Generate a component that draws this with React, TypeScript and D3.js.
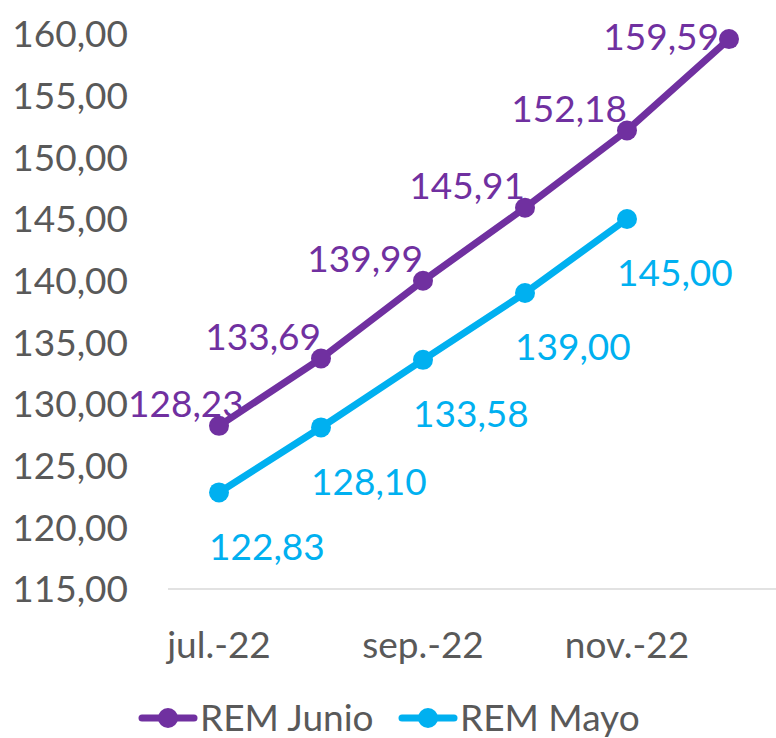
import { useEffect, useRef } from "react";
import { select, scaleBand, scaleLinear, line, range } from "d3";

const months = ["jul.-22", "ago.-22", "sep.-22", "oct.-22", "nov.-22", "dic.-22"];
const shownMonths = ["jul.-22", "sep.-22", "nov.-22"];
const remJunio = [128.23, 133.69, 139.99, 145.91, 152.18, 159.59];
const remMayo = [122.83, 128.1, 133.58, 139.0, 145.0];
const yTicks = [115, 120, 125, 130, 135, 140, 145, 150, 155, 160];

const PURPLE = "#7030A0";
const CYAN = "#00B0F0";
const GREY = "#595959";
const FONT = "Lato, 'Open Sans', sans-serif";

const fmt = (v: number) => v.toFixed(2).replace(".", ",");

export default function App() {
  const svgRef = useRef<SVGSVGElement>(null);

  useEffect(() => {
    const svg = select(svgRef.current);
    svg.selectAll("*").remove();

    const plotLeft = 128;
    const x = scaleBand().domain(months).range([168, 780]);
    const y = scaleLinear().domain([115, 160]).range([589, 34]);
    const cx = (i: number) => (x(months[i]) ?? 0) + x.bandwidth() / 2;

    // axis line
    svg
      .append("line")
      .attr("x1", 168)
      .attr("x2", 776)
      .attr("y1", y(115))
      .attr("y2", y(115))
      .attr("stroke", "#D9D9D9")
      .attr("stroke-width", 1.5);

    // y tick labels
    svg
      .selectAll(".ytick")
      .data(yTicks)
      .enter()
      .append("text")
      .attr("x", 128)
      .attr("y", (d) => y(d))
      .attr("dy", "0.36em")
      .attr("text-anchor", "end")
      .attr("fill", GREY)
      .attr("font-size", 37)
      .attr("font-family", FONT)
      .text((d) => fmt(d));

    // x labels
    svg
      .selectAll(".xtick")
      .data(shownMonths)
      .enter()
      .append("text")
      .attr("x", (d) => (x(d) ?? 0) + x.bandwidth() / 2)
      .attr("y", 645)
      .attr("dy", "0.36em")
      .attr("text-anchor", "middle")
      .attr("fill", GREY)
      .attr("font-size", 37)
      .attr("font-family", FONT)
      .text((d) => d);

    const drawSeries = (vals: number[], color: string, below: boolean) => {
      const pts = vals.map((v, i) => [cx(i), y(v)] as [number, number]);
      svg
        .append("path")
        .attr("d", line()(pts) ?? "")
        .attr("fill", "none")
        .attr("stroke", color)
        .attr("stroke-width", 7)
        .attr("stroke-linejoin", "round")
        .attr("stroke-linecap", "round");
      svg
        .selectAll(null)
        .data(pts)
        .enter()
        .append("circle")
        .attr("cx", (d) => d[0])
        .attr("cy", (d) => d[1])
        .attr("r", 10)
        .attr("fill", color);
      const labels = svg
        .selectAll(null)
        .data(range(vals.length))
        .enter()
        .append("text")
        .attr("dy", "0.36em")
        .attr("fill", color)
        .attr("font-size", 37)
        .attr("font-family", FONT)
        .text((i) => fmt(vals[i]));
      if (below) {
        labels
          .attr("text-anchor", "start")
          .attr("x", (i) => pts[i][0] - 10)
          .attr("y", (i) => pts[i][1] + 54);
      } else {
        // keep labels inside the plot area, like Excel does
        labels.attr("text-anchor", "end").each(function (i) {
          const el = this as SVGTextElement;
          const w = el.getComputedTextLength();
          const top = pts[i][1] - 22;
          const clampedY = Math.max(top, 37);
          const shift = clampedY > top ? 10 : 0;
          el.setAttribute("x", String(Math.max(pts[i][0] - shift, plotLeft + w)));
          el.setAttribute("y", String(clampedY));
        });
      }
    };

    drawSeries(remMayo, CYAN, true);
    drawSeries(remJunio, PURPLE, false);

    // legend
    const legend = [
      { name: "REM Junio", color: PURPLE, x0: 142 },
      { name: "REM Mayo", color: CYAN, x0: 402 },
    ];
    const ly = 718;
    legend.forEach((l) => {
      svg
        .append("line")
        .attr("x1", l.x0)
        .attr("x2", l.x0 + 52)
        .attr("y1", ly)
        .attr("y2", ly)
        .attr("stroke", l.color)
        .attr("stroke-width", 7)
        .attr("stroke-linecap", "round");
      svg
        .append("circle")
        .attr("cx", l.x0 + 26)
        .attr("cy", ly)
        .attr("r", 10)
        .attr("fill", l.color);
      svg
        .append("text")
        .attr("x", l.x0 + 58)
        .attr("y", ly)
        .attr("dy", "0.36em")
        .attr("fill", GREY)
        .attr("font-size", 37)
        .attr("font-family", FONT)
        .text(l.name);
    });
  }, []);

  return (
    <svg
      ref={svgRef}
      width={776}
      height={738}
      style={{ position: "absolute", left: 0, top: 0, background: "#fff" }}
    />
  );
}
